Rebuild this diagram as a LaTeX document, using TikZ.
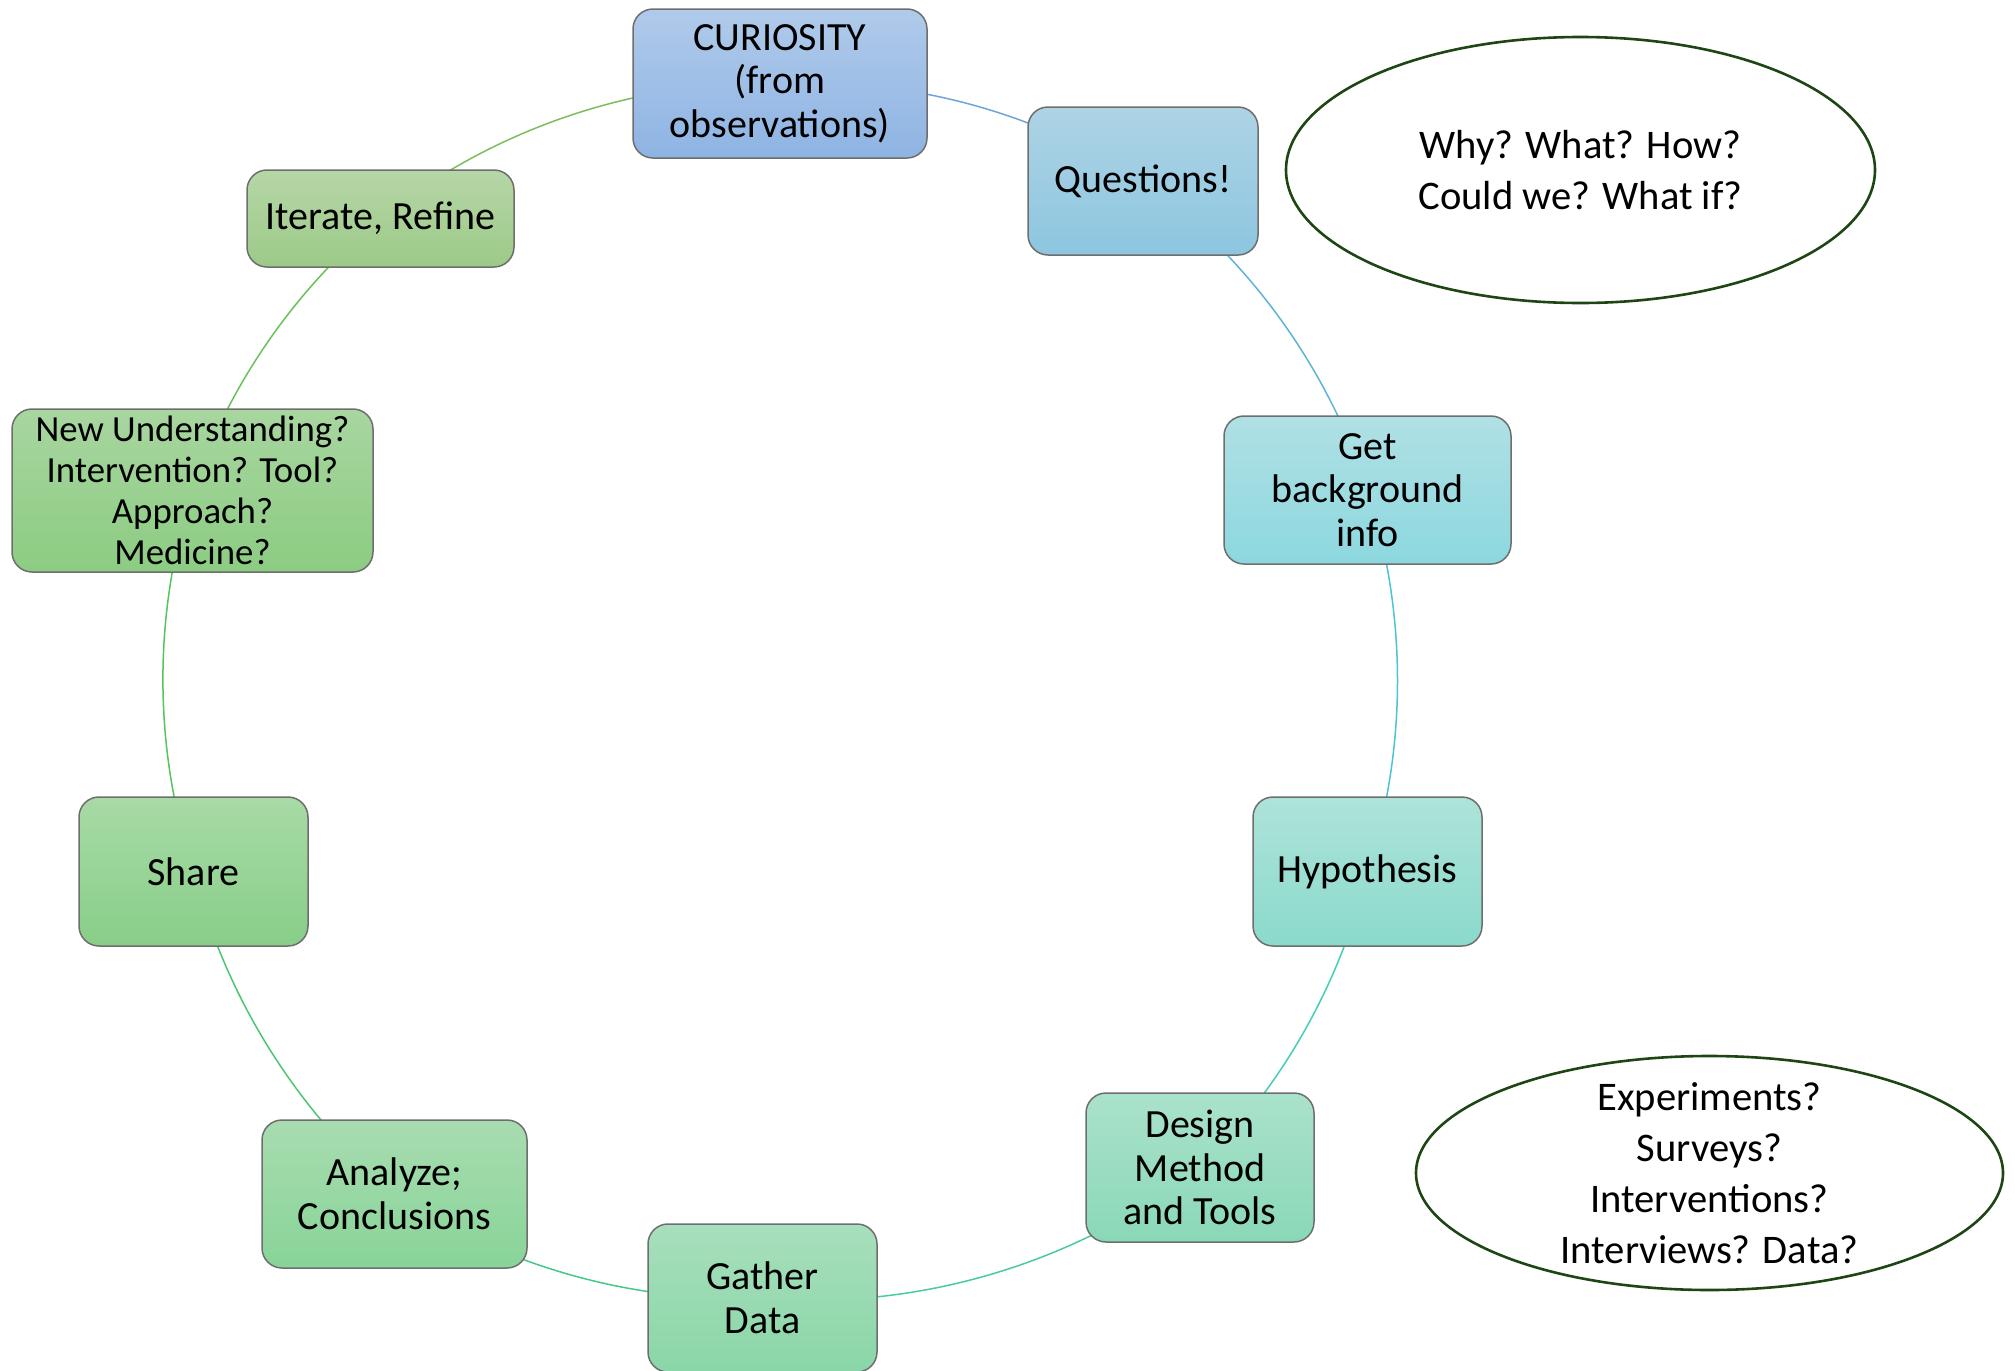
\documentclass[tikz,border=0pt]{standalone}
\usepackage{fontspec}
\setmainfont{Carlito}
\usetikzlibrary{shapes.geometric,backgrounds}
\definecolor{boxline}{HTML}{6E6E6E}
\definecolor{notegreen}{HTML}{1E4614}
\definecolor{cAt}{HTML}{B0CAEA}
\definecolor{cAb}{HTML}{8EB4E3}
\definecolor{cBt}{HTML}{AED3E5}
\definecolor{cBb}{HTML}{8DC6E0}
\definecolor{cCt}{HTML}{B0E0E4}
\definecolor{cCb}{HTML}{8CD8DF}
\definecolor{cDt}{HTML}{AEE3D9}
\definecolor{cDb}{HTML}{8ADACB}
\definecolor{cEt}{HTML}{AAE2CB}
\definecolor{cEb}{HTML}{8AD8B8}
\definecolor{cFt}{HTML}{A8DFBC}
\definecolor{cFb}{HTML}{8AD6A8}
\definecolor{cGt}{HTML}{A8DCB0}
\definecolor{cGb}{HTML}{88D498}
\definecolor{cHt}{HTML}{A8DAA6}
\definecolor{cHb}{HTML}{88CE88}
\definecolor{cIt}{HTML}{A8D6A0}
\definecolor{cIb}{HTML}{8CCC82}
\definecolor{cJt}{HTML}{B6D6A6}
\definecolor{cJb}{HTML}{9CCA88}
\definecolor{lA}{HTML}{6FA3DA}
\definecolor{lB}{HTML}{5DB3D8}
\definecolor{lC}{HTML}{4CC3D2}
\definecolor{lD}{HTML}{45CDB5}
\definecolor{lE}{HTML}{48CC9E}
\definecolor{lF}{HTML}{45C888}
\definecolor{lG}{HTML}{4CC671}
\definecolor{lH}{HTML}{56C45E}
\definecolor{lI}{HTML}{6AC15A}
\definecolor{lJ}{HTML}{7BBE5A}

\begin{document}

\begin{tikzpicture}[x=0.5pt,y=-0.5pt,
  stepbox/.style={draw=boxline, line width=0.75pt, rounded corners=10pt,
    inner sep=2pt, align=center, text=black,
    font=\fontsize{20}{21.8}\selectfont},
  note/.style={ellipse, draw=notegreen, line width=1.3pt, fill=white, inner sep=0pt},
  notetext/.style={align=center, text=black, inner sep=0pt,
    font=\fontsize{20.3}{25.5}\selectfont},
  link/.style={line width=0.75pt, looseness=0.87}]
\useasboundingbox (0,0) rectangle (2015,1371);
\node[stepbox, top color=cAt, bottom color=cAb, minimum width=147pt, minimum height=74.5pt] (cur) at (780,83.5) {CURIOSITY\\(from\\observations)};
\node[stepbox, top color=cBt, bottom color=cBb, minimum width=115pt, minimum height=74pt] (que) at (1143,181) {Questions!};
\node[stepbox, top color=cCt, bottom color=cCb, minimum width=143.5pt, minimum height=74pt] (bkg) at (1367.5,490) {Get\\background\\info};
\node[stepbox, top color=cDt, bottom color=cDb, minimum width=114.5pt, minimum height=74.5pt] (hyp) at (1367.5,871.5) {Hypothesis};
\node[stepbox, top color=cEt, bottom color=cEb, minimum width=114pt, minimum height=74.5pt] (des) at (1200,1167.5) {Design\\Method\\and Tools};
\node[stepbox, top color=cFt, bottom color=cFb, minimum width=114.5pt, minimum height=74pt] (gat) at (762.5,1298) {Gather\\Data};
\node[stepbox, top color=cGt, bottom color=cGb, minimum width=132.5pt, minimum height=74pt] (ana) at (394.5,1194) {Analyze;\\Conclusions};
\node[stepbox, top color=cHt, bottom color=cHb, minimum width=114.5pt, minimum height=74.5pt] (sha) at (193.5,871.5) {Share};
\node[stepbox, top color=cIt, bottom color=cIb, minimum width=180.5pt, minimum height=81.5pt, font=\fontsize{18.4}{20.5}\selectfont] (neu) at (192.5,490.5) {New Understanding?\\Intervention? Tool?\\Approach?\\Medicine?};
\node[stepbox, top color=cJt, bottom color=cJb, minimum width=133.5pt, minimum height=48.5pt] (ite) at (380.5,218.5) {Iterate, Refine};
\begin{pgfonlayer}{background}
\draw[link, lA] (cur.center) to[bend left=17.8] (que.center);
\draw[link, lB] (que.center) to[bend left=17.9] (bkg.center);
\draw[link, lC] (bkg.center) to[bend left=18] (hyp.center);
\draw[link, lD] (hyp.center) to[bend left=15.8] (des.center);
\draw[link, lE] (des.center) to[bend left=21.5] (gat.center);
\draw[link, lF] (gat.center) to[bend left=17.9] (ana.center);
\draw[link, lG] (ana.center) to[bend left=17.7] (sha.center);
\draw[link, lH] (sha.center) to[bend left=18] (neu.center);
\draw[link, lI] (neu.center) to[bend left=15.5] (ite.center);
\draw[link, lJ] (ite.center) to[bend left=20.1] (cur.center);
\end{pgfonlayer}
\node[note, minimum width=294.5pt, minimum height=133pt] (ell1) at (1580.5,170) {};
\node[notetext] (ell1t) at (ell1.center) {Why? What? How?\\Could we? What if?};
\node[note, minimum width=293.5pt, minimum height=117pt] (ell2) at (1709.5,1173) {};
\node[notetext] (ell2t) at (ell2.center) {Experiments?\\Surveys?\\Interventions?\\Interviews? Data?};
\end{tikzpicture}

\end{document}
